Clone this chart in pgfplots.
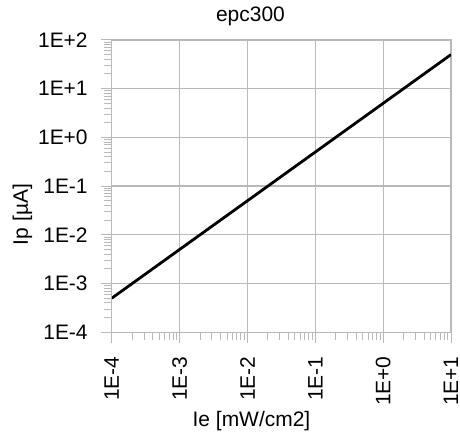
\documentclass[border=0pt]{standalone}
\usepackage{pgfplots}
\pgfplotsset{compat=1.18}
\usepackage{fontspec}
\setmainfont{Liberation Sans}
\begin{document}
\fontsize{21}{25}\selectfont
\begin{tikzpicture}
\begin{loglogaxis}[
  name=ax,
  scale only axis, width=340pt, height=293pt,
  xmin=1e-4, xmax=10, ymin=1e-4, ymax=100,
  xtick={1e-4,1e-3,1e-2,1e-1,1,10},
  xticklabels={1E-4,1E-3,1E-2,1E-1,1E+0,1E+1},
  ytick={1e-4,1e-3,1e-2,1e-1,1,10,100},
  yticklabels={1E-4,1E-3,1E-2,1E-1,1E+0,1E+1,1E+2},
  xtick pos=left, ytick pos=left,
  tick align=outside, major tick length=11pt, minor tick length=8pt,
  every tick/.style={gray!55, line width=1pt},
  axis line style={gray!55, line width=1.2pt},
  grid=major, major grid style={gray!55, line width=1.2pt},
  tick label style={font=\fontsize{21}{25}\selectfont},
  xticklabel style={rotate=90, anchor=east, inner sep=0pt, xshift=-13pt},
  yticklabel style={anchor=east, inner sep=0pt, xshift=-13pt},
]
\addplot[black, line width=2.8pt] coordinates {
  (1e-4,5e-4) (1e-3,5e-3) (1e-2,5e-2) (1e-1,5e-1) (1,5) (10,50)
};
\end{loglogaxis}
\node[anchor=base] at ([xshift=139pt,yshift=18pt]ax.north west) {epc300};
\node[anchor=base] at ([xshift=140pt,yshift=-94pt]ax.south west) {Ie [mW/cm2]};
\node[rotate=90, anchor=base] at ([xshift=-84pt,yshift=118pt]ax.south west) {Ip [µA]};
\pgfresetboundingbox
\path[use as bounding box] ([xshift=-112pt,yshift=-103pt]ax.south west) rectangle ([xshift=9pt,yshift=40pt]ax.north east);
\end{tikzpicture}
\end{document}
